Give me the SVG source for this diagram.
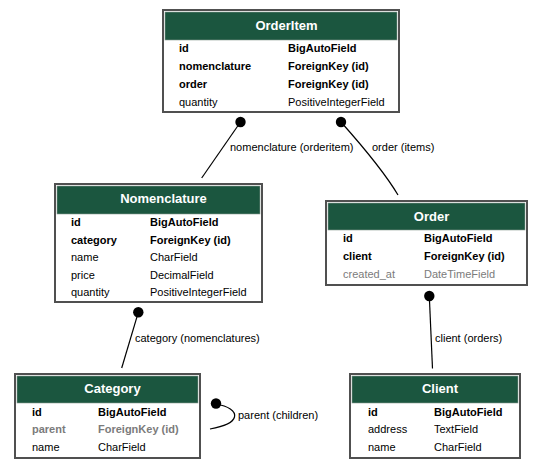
<svg xmlns="http://www.w3.org/2000/svg" width="542" height="469" viewBox="0 0 542 469">
<style>
.box{fill:#ffffff;stroke:#505050;stroke-width:2}
.hd{fill:#1b563f;stroke:#8a9a92;stroke-width:0.6}
.ttl{font-family:"Liberation Sans",Arial,sans-serif;font-size:13px;font-weight:bold;fill:#ffffff;text-anchor:middle}
.f{font-family:"Liberation Sans",Arial,sans-serif;font-size:11px;fill:#000000}
.b{font-weight:bold}
.g{fill:#7b7b7b}
.lbl{font-family:"Liberation Sans",Arial,sans-serif;font-size:11px;fill:#000000}
.edge{fill:none;stroke:#000000;stroke-width:1.2}
.dot{fill:#000000}
</style>
<rect width="542" height="469" fill="#ffffff"/>
<g id="connectors">
<path class="edge" d="M240.5,122 L201.7,178"/>
<circle class="dot" cx="240.5" cy="122" r="5.2"/>
<text class="lbl" x="230" y="150.5">nomenclature (orderitem)</text>
<path class="edge" d="M341,122 C357,140 382,168 398,195"/>
<circle class="dot" cx="341" cy="122" r="5.2"/>
<text class="lbl" x="372" y="150.5">order (items)</text>
<path class="edge" d="M138.3,312.3 L121.7,368"/>
<circle class="dot" cx="138.3" cy="312.3" r="5.2"/>
<text class="lbl" x="135" y="342">category (nomenclatures)</text>
<path class="edge" d="M429.3,296 L432.5,368.5"/>
<circle class="dot" cx="429.3" cy="296" r="5.2"/>
<text class="lbl" x="435" y="342">client (orders)</text>
<path class="edge" d="M216,404 C228,406 236,411 234.5,417 C233,423 221,427 210,429"/>
<circle class="dot" cx="216" cy="403.5" r="5.2"/>
<text class="lbl" x="238" y="419">parent (children)</text>
</g>
<g id="OrderItem">
<rect class="box" x="163" y="10" width="236" height="102"/>
<rect class="hd" x="165" y="12" width="232" height="28"/>
<text class="ttl" x="286.5" y="30">OrderItem</text>
<text class="f b" x="179" y="52">id</text><text class="f b" x="288" y="52">BigAutoField</text>
<text class="f b" x="179" y="70">nomenclature</text><text class="f b" x="288" y="70">ForeignKey (id)</text>
<text class="f b" x="179" y="88">order</text><text class="f b" x="288" y="88">ForeignKey (id)</text>
<text class="f" x="179" y="106">quantity</text><text class="f" x="288" y="106">PositiveIntegerField</text>
</g>
<g id="Nomenclature">
<rect class="box" x="55" y="184" width="207" height="118"/>
<rect class="hd" x="57" y="186" width="203" height="28"/>
<text class="ttl" x="163.5" y="203">Nomenclature</text>
<text class="f b" x="71" y="226">id</text><text class="f b" x="150" y="226">BigAutoField</text>
<text class="f b" x="71" y="244">category</text><text class="f b" x="150" y="244">ForeignKey (id)</text>
<text class="f" x="71" y="261">name</text><text class="f" x="150" y="261">CharField</text>
<text class="f" x="71" y="279">price</text><text class="f" x="150" y="279">DecimalField</text>
<text class="f" x="71" y="296">quantity</text><text class="f" x="150" y="296">PositiveIntegerField</text>
</g>
<g id="Order">
<rect class="box" x="326" y="201" width="201" height="84"/>
<rect class="hd" x="328" y="203" width="197" height="27"/>
<text class="ttl" x="431.5" y="220.5">Order</text>
<text class="f b" x="343" y="242">id</text><text class="f b" x="424" y="242">BigAutoField</text>
<text class="f b" x="343" y="260">client</text><text class="f b" x="424" y="260">ForeignKey (id)</text>
<text class="f g" x="343" y="278">created_at</text><text class="f g" x="424" y="278">DateTimeField</text>
</g>
<g id="Category">
<rect class="box" x="15" y="374" width="185" height="84"/>
<rect class="hd" x="17" y="376" width="181" height="27"/>
<text class="ttl" x="112.5" y="393">Category</text>
<text class="f b" x="32" y="416">id</text><text class="f b" x="98" y="416">BigAutoField</text>
<text class="f b g" x="32" y="433">parent</text><text class="f b g" x="98" y="433">ForeignKey (id)</text>
<text class="f" x="32" y="451">name</text><text class="f" x="98" y="451">CharField</text>
</g>
<g id="Client">
<rect class="box" x="350" y="374" width="170" height="84"/>
<rect class="hd" x="352" y="376" width="166" height="27"/>
<text class="ttl" x="440" y="393">Client</text>
<text class="f b" x="368" y="416">id</text><text class="f b" x="434" y="416">BigAutoField</text>
<text class="f" x="368" y="433">address</text><text class="f" x="434" y="433">TextField</text>
<text class="f" x="368" y="451">name</text><text class="f" x="434" y="451">CharField</text>
</g>
</svg>
